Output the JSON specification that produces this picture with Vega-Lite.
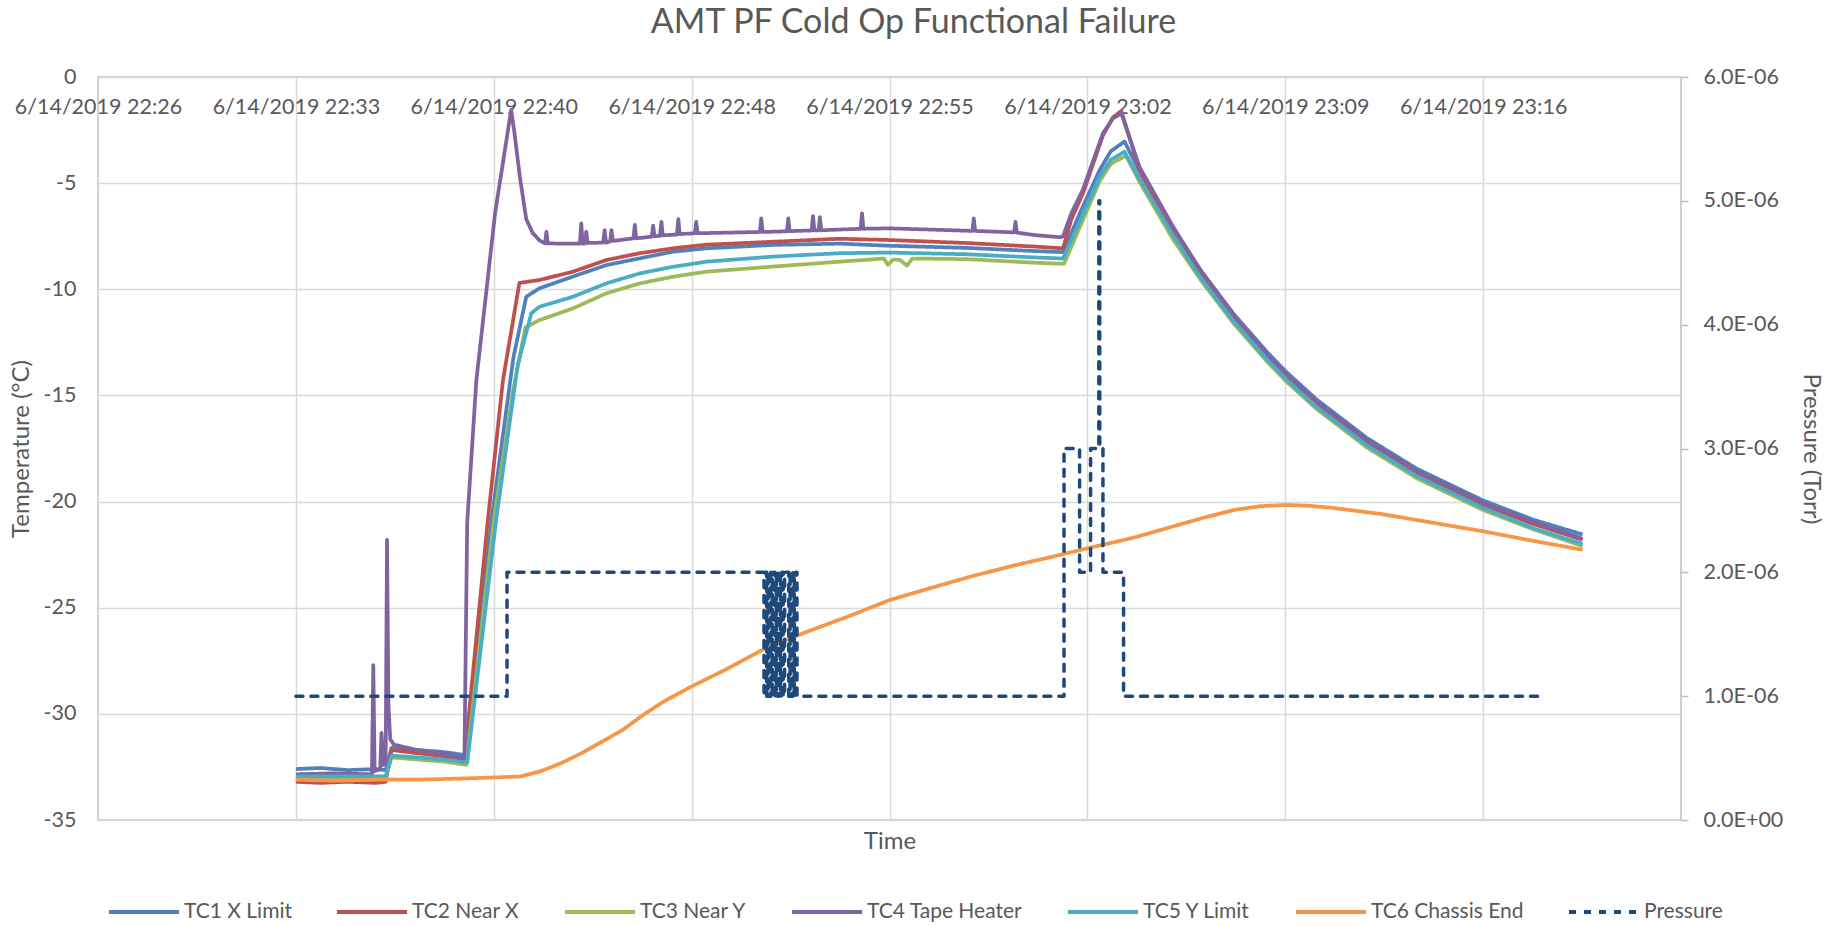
{
"$schema": "https://vega.github.io/schema/vega-lite/v6.json",
"width": 1583,
"height": 743,
"autosize": {"type": "none"},
"padding": {"left": 98, "top": 77, "right": 150, "bottom": 106},
"background": "white",
"title": {"text": "AMT PF Cold Op Functional Failure", "font": "Lato", "fontSize": 34, "fontWeight": "normal", "color": "#595959", "anchor": "middle", "frame": "group", "dx": 24, "baseline": "middle", "offset": 9},
"config": {
  "font": "Lato",
  "view": {"stroke": "#BFBFBF", "strokeWidth": 1.5},
  "axis": {"labelFont": "Lato", "labelFontSize": 21.5, "labelColor": "#595959", "titleFont": "Lato", "titleFontSize": 24, "titleColor": "#595959", "titleFontWeight": "normal", "gridColor": "#D9D9D9", "gridWidth": 1.5, "domain": false, "tickColor": "#BFBFBF", "labelFlush": false, "labelOverlap": false},
  "legend": {"labelFont": "Lato", "labelFontSize": 21, "labelColor": "#595959", "labelLimit": 400, "symbolType": "stroke", "symbolSize": 4900, "symbolStrokeWidth": 4, "labelOffset": 3, "columnPadding": 43, "clipHeight": 24}
},
"datasets": {
"temps": [
{"s":"TC1 X Limit","t":"2019-06-14T22:33:36","v":-32.6},
{"s":"TC1 X Limit","t":"2019-06-14T22:34:30","v":-32.55},
{"s":"TC1 X Limit","t":"2019-06-14T22:35:30","v":-32.65},
{"s":"TC1 X Limit","t":"2019-06-14T22:36:30","v":-32.6},
{"s":"TC1 X Limit","t":"2019-06-14T22:36:52","v":-32.65},
{"s":"TC1 X Limit","t":"2019-06-14T22:37:05","v":-31.6},
{"s":"TC1 X Limit","t":"2019-06-14T22:38:00","v":-31.7},
{"s":"TC1 X Limit","t":"2019-06-14T22:39:00","v":-31.8},
{"s":"TC1 X Limit","t":"2019-06-14T22:39:47","v":-31.95},
{"s":"TC1 X Limit","t":"2019-06-14T22:40:43","v":-20.9},
{"s":"TC1 X Limit","t":"2019-06-14T22:41:31","v":-13.2},
{"s":"TC1 X Limit","t":"2019-06-14T22:41:59","v":-10.35},
{"s":"TC1 X Limit","t":"2019-06-14T22:42:28","v":-9.95},
{"s":"TC1 X Limit","t":"2019-06-14T22:43:41","v":-9.4},
{"s":"TC1 X Limit","t":"2019-06-14T22:44:54","v":-8.86},
{"s":"TC1 X Limit","t":"2019-06-14T22:46:07","v":-8.54},
{"s":"TC1 X Limit","t":"2019-06-14T22:47:19","v":-8.23},
{"s":"TC1 X Limit","t":"2019-06-14T22:48:32","v":-8.07},
{"s":"TC1 X Limit","t":"2019-06-14T22:50:58","v":-7.91},
{"s":"TC1 X Limit","t":"2019-06-14T22:53:23","v":-7.85},
{"s":"TC1 X Limit","t":"2019-06-14T22:55:12","v":-7.95},
{"s":"TC1 X Limit","t":"2019-06-14T22:58:00","v":-8.05},
{"s":"TC1 X Limit","t":"2019-06-14T23:00:30","v":-8.2},
{"s":"TC1 X Limit","t":"2019-06-14T23:01:31","v":-8.25},
{"s":"TC1 X Limit","t":"2019-06-14T23:02:10","v":-6.3},
{"s":"TC1 X Limit","t":"2019-06-14T23:02:51","v":-4.38},
{"s":"TC1 X Limit","t":"2019-06-14T23:03:15","v":-3.5},
{"s":"TC1 X Limit","t":"2019-06-14T23:03:45","v":-3.04},
{"s":"TC1 X Limit","t":"2019-06-14T23:04:18","v":-4.45},
{"s":"TC1 X Limit","t":"2019-06-14T23:05:31","v":-7.15},
{"s":"TC1 X Limit","t":"2019-06-14T23:06:31","v":-9.1},
{"s":"TC1 X Limit","t":"2019-06-14T23:07:43","v":-11.15},
{"s":"TC1 X Limit","t":"2019-06-14T23:08:56","v":-12.95},
{"s":"TC1 X Limit","t":"2019-06-14T23:09:36","v":-13.85},
{"s":"TC1 X Limit","t":"2019-06-14T23:10:45","v":-15.2},
{"s":"TC1 X Limit","t":"2019-06-14T23:12:34","v":-17.0},
{"s":"TC1 X Limit","t":"2019-06-14T23:14:23","v":-18.45},
{"s":"TC1 X Limit","t":"2019-06-14T23:16:48","v":-19.95},
{"s":"TC1 X Limit","t":"2019-06-14T23:18:37","v":-20.85},
{"s":"TC1 X Limit","t":"2019-06-14T23:20:25","v":-21.55},
{"s":"TC2 Near X","t":"2019-06-14T22:33:36","v":-33.2},
{"s":"TC2 Near X","t":"2019-06-14T22:34:30","v":-33.25},
{"s":"TC2 Near X","t":"2019-06-14T22:35:30","v":-33.2},
{"s":"TC2 Near X","t":"2019-06-14T22:36:30","v":-33.25},
{"s":"TC2 Near X","t":"2019-06-14T22:36:52","v":-33.2},
{"s":"TC2 Near X","t":"2019-06-14T22:37:05","v":-31.7},
{"s":"TC2 Near X","t":"2019-06-14T22:38:00","v":-31.85},
{"s":"TC2 Near X","t":"2019-06-14T22:39:00","v":-32.0},
{"s":"TC2 Near X","t":"2019-06-14T22:39:44","v":-32.2},
{"s":"TC2 Near X","t":"2019-06-14T22:40:35","v":-20.9},
{"s":"TC2 Near X","t":"2019-06-14T22:41:08","v":-14.3},
{"s":"TC2 Near X","t":"2019-06-14T22:41:44","v":-9.7},
{"s":"TC2 Near X","t":"2019-06-14T22:42:28","v":-9.56},
{"s":"TC2 Near X","t":"2019-06-14T22:43:41","v":-9.17},
{"s":"TC2 Near X","t":"2019-06-14T22:44:54","v":-8.62},
{"s":"TC2 Near X","t":"2019-06-14T22:46:07","v":-8.3},
{"s":"TC2 Near X","t":"2019-06-14T22:47:19","v":-8.07},
{"s":"TC2 Near X","t":"2019-06-14T22:48:32","v":-7.9},
{"s":"TC2 Near X","t":"2019-06-14T22:50:58","v":-7.76},
{"s":"TC2 Near X","t":"2019-06-14T22:53:23","v":-7.62},
{"s":"TC2 Near X","t":"2019-06-14T22:55:12","v":-7.68},
{"s":"TC2 Near X","t":"2019-06-14T22:58:00","v":-7.82},
{"s":"TC2 Near X","t":"2019-06-14T23:00:30","v":-7.99},
{"s":"TC2 Near X","t":"2019-06-14T23:01:31","v":-8.07},
{"s":"TC2 Near X","t":"2019-06-14T23:01:49","v":-6.7},
{"s":"TC2 Near X","t":"2019-06-14T23:02:14","v":-5.5},
{"s":"TC2 Near X","t":"2019-06-14T23:02:58","v":-2.75},
{"s":"TC2 Near X","t":"2019-06-14T23:03:20","v":-1.9},
{"s":"TC2 Near X","t":"2019-06-14T23:03:38","v":-1.6},
{"s":"TC2 Near X","t":"2019-06-14T23:04:18","v":-4.4},
{"s":"TC2 Near X","t":"2019-06-14T23:05:31","v":-7.25},
{"s":"TC2 Near X","t":"2019-06-14T23:06:31","v":-9.25},
{"s":"TC2 Near X","t":"2019-06-14T23:07:43","v":-11.35},
{"s":"TC2 Near X","t":"2019-06-14T23:08:56","v":-13.15},
{"s":"TC2 Near X","t":"2019-06-14T23:09:36","v":-14.05},
{"s":"TC2 Near X","t":"2019-06-14T23:10:45","v":-15.4},
{"s":"TC2 Near X","t":"2019-06-14T23:12:34","v":-17.2},
{"s":"TC2 Near X","t":"2019-06-14T23:14:23","v":-18.65},
{"s":"TC2 Near X","t":"2019-06-14T23:16:48","v":-20.15},
{"s":"TC2 Near X","t":"2019-06-14T23:18:37","v":-21.05},
{"s":"TC2 Near X","t":"2019-06-14T23:20:25","v":-21.8},
{"s":"TC3 Near Y","t":"2019-06-14T22:33:36","v":-33.0},
{"s":"TC3 Near Y","t":"2019-06-14T22:35:00","v":-33.05},
{"s":"TC3 Near Y","t":"2019-06-14T22:36:30","v":-33.0},
{"s":"TC3 Near Y","t":"2019-06-14T22:36:52","v":-33.0},
{"s":"TC3 Near Y","t":"2019-06-14T22:37:05","v":-32.05},
{"s":"TC3 Near Y","t":"2019-06-14T22:38:00","v":-32.15},
{"s":"TC3 Near Y","t":"2019-06-14T22:39:00","v":-32.25},
{"s":"TC3 Near Y","t":"2019-06-14T22:39:48","v":-32.4},
{"s":"TC3 Near Y","t":"2019-06-14T22:40:48","v":-20.9},
{"s":"TC3 Near Y","t":"2019-06-14T22:41:30","v":-14.8},
{"s":"TC3 Near Y","t":"2019-06-14T22:41:57","v":-11.8},
{"s":"TC3 Near Y","t":"2019-06-14T22:42:28","v":-11.45},
{"s":"TC3 Near Y","t":"2019-06-14T22:43:41","v":-10.9},
{"s":"TC3 Near Y","t":"2019-06-14T22:44:54","v":-10.19},
{"s":"TC3 Near Y","t":"2019-06-14T22:46:07","v":-9.72},
{"s":"TC3 Near Y","t":"2019-06-14T22:47:19","v":-9.41},
{"s":"TC3 Near Y","t":"2019-06-14T22:48:32","v":-9.17},
{"s":"TC3 Near Y","t":"2019-06-14T22:50:58","v":-8.93},
{"s":"TC3 Near Y","t":"2019-06-14T22:53:23","v":-8.7},
{"s":"TC3 Near Y","t":"2019-06-14T22:55:00","v":-8.55},
{"s":"TC3 Near Y","t":"2019-06-14T22:55:08","v":-8.85},
{"s":"TC3 Near Y","t":"2019-06-14T22:55:20","v":-8.6},
{"s":"TC3 Near Y","t":"2019-06-14T22:55:35","v":-8.62},
{"s":"TC3 Near Y","t":"2019-06-14T22:55:50","v":-8.88},
{"s":"TC3 Near Y","t":"2019-06-14T22:56:02","v":-8.55},
{"s":"TC3 Near Y","t":"2019-06-14T22:58:00","v":-8.58},
{"s":"TC3 Near Y","t":"2019-06-14T23:00:30","v":-8.75},
{"s":"TC3 Near Y","t":"2019-06-14T23:01:33","v":-8.8},
{"s":"TC3 Near Y","t":"2019-06-14T23:02:51","v":-4.9},
{"s":"TC3 Near Y","t":"2019-06-14T23:03:15","v":-4.1},
{"s":"TC3 Near Y","t":"2019-06-14T23:03:48","v":-3.7},
{"s":"TC3 Near Y","t":"2019-06-14T23:04:18","v":-4.95},
{"s":"TC3 Near Y","t":"2019-06-14T23:05:31","v":-7.65},
{"s":"TC3 Near Y","t":"2019-06-14T23:06:31","v":-9.55},
{"s":"TC3 Near Y","t":"2019-06-14T23:07:43","v":-11.6},
{"s":"TC3 Near Y","t":"2019-06-14T23:08:56","v":-13.4},
{"s":"TC3 Near Y","t":"2019-06-14T23:09:36","v":-14.3},
{"s":"TC3 Near Y","t":"2019-06-14T23:10:45","v":-15.65},
{"s":"TC3 Near Y","t":"2019-06-14T23:12:34","v":-17.45},
{"s":"TC3 Near Y","t":"2019-06-14T23:14:23","v":-18.9},
{"s":"TC3 Near Y","t":"2019-06-14T23:16:48","v":-20.4},
{"s":"TC3 Near Y","t":"2019-06-14T23:18:37","v":-21.3},
{"s":"TC3 Near Y","t":"2019-06-14T23:20:25","v":-22.1},
{"s":"TC4 Tape Heater","t":"2019-06-14T22:33:36","v":-32.85},
{"s":"TC4 Tape Heater","t":"2019-06-14T22:35:00","v":-32.8},
{"s":"TC4 Tape Heater","t":"2019-06-14T22:36:22","v":-32.85},
{"s":"TC4 Tape Heater","t":"2019-06-14T22:36:25","v":-27.7},
{"s":"TC4 Tape Heater","t":"2019-06-14T22:36:28","v":-32.7},
{"s":"TC4 Tape Heater","t":"2019-06-14T22:36:40","v":-32.6},
{"s":"TC4 Tape Heater","t":"2019-06-14T22:36:43","v":-30.9},
{"s":"TC4 Tape Heater","t":"2019-06-14T22:36:47","v":-32.4},
{"s":"TC4 Tape Heater","t":"2019-06-14T22:36:52","v":-32.3},
{"s":"TC4 Tape Heater","t":"2019-06-14T22:36:55","v":-21.8},
{"s":"TC4 Tape Heater","t":"2019-06-14T22:36:58","v":-29.5},
{"s":"TC4 Tape Heater","t":"2019-06-14T22:37:02","v":-31.2},
{"s":"TC4 Tape Heater","t":"2019-06-14T22:37:10","v":-31.45},
{"s":"TC4 Tape Heater","t":"2019-06-14T22:38:00","v":-31.7},
{"s":"TC4 Tape Heater","t":"2019-06-14T22:39:00","v":-31.9},
{"s":"TC4 Tape Heater","t":"2019-06-14T22:39:44","v":-32.1},
{"s":"TC4 Tape Heater","t":"2019-06-14T22:39:50","v":-21.0},
{"s":"TC4 Tape Heater","t":"2019-06-14T22:40:10","v":-14.3},
{"s":"TC4 Tape Heater","t":"2019-06-14T22:40:51","v":-6.4},
{"s":"TC4 Tape Heater","t":"2019-06-14T22:41:26","v":-1.55},
{"s":"TC4 Tape Heater","t":"2019-06-14T22:41:33","v":-2.6},
{"s":"TC4 Tape Heater","t":"2019-06-14T22:41:45","v":-4.7},
{"s":"TC4 Tape Heater","t":"2019-06-14T22:41:59","v":-6.7},
{"s":"TC4 Tape Heater","t":"2019-06-14T22:42:13","v":-7.35},
{"s":"TC4 Tape Heater","t":"2019-06-14T22:42:28","v":-7.7},
{"s":"TC4 Tape Heater","t":"2019-06-14T22:42:40","v":-7.84},
{"s":"TC4 Tape Heater","t":"2019-06-14T22:42:43","v":-7.29},
{"s":"TC4 Tape Heater","t":"2019-06-14T22:42:46","v":-7.84},
{"s":"TC4 Tape Heater","t":"2019-06-14T22:43:30","v":-7.85},
{"s":"TC4 Tape Heater","t":"2019-06-14T22:43:56","v":-7.85},
{"s":"TC4 Tape Heater","t":"2019-06-14T22:43:59","v":-6.89},
{"s":"TC4 Tape Heater","t":"2019-06-14T22:44:02","v":-7.85},
{"s":"TC4 Tape Heater","t":"2019-06-14T22:44:07","v":-7.85},
{"s":"TC4 Tape Heater","t":"2019-06-14T22:44:10","v":-7.29},
{"s":"TC4 Tape Heater","t":"2019-06-14T22:44:13","v":-7.82},
{"s":"TC4 Tape Heater","t":"2019-06-14T22:44:47","v":-7.8},
{"s":"TC4 Tape Heater","t":"2019-06-14T22:44:50","v":-7.21},
{"s":"TC4 Tape Heater","t":"2019-06-14T22:44:53","v":-7.8},
{"s":"TC4 Tape Heater","t":"2019-06-14T22:45:02","v":-7.75},
{"s":"TC4 Tape Heater","t":"2019-06-14T22:45:05","v":-7.21},
{"s":"TC4 Tape Heater","t":"2019-06-14T22:45:08","v":-7.72},
{"s":"TC4 Tape Heater","t":"2019-06-14T22:45:53","v":-7.6},
{"s":"TC4 Tape Heater","t":"2019-06-14T22:45:56","v":-6.97},
{"s":"TC4 Tape Heater","t":"2019-06-14T22:45:59","v":-7.6},
{"s":"TC4 Tape Heater","t":"2019-06-14T22:46:33","v":-7.52},
{"s":"TC4 Tape Heater","t":"2019-06-14T22:46:36","v":-7.0},
{"s":"TC4 Tape Heater","t":"2019-06-14T22:46:39","v":-7.5},
{"s":"TC4 Tape Heater","t":"2019-06-14T22:46:51","v":-7.48},
{"s":"TC4 Tape Heater","t":"2019-06-14T22:46:54","v":-6.82},
{"s":"TC4 Tape Heater","t":"2019-06-14T22:46:57","v":-7.46},
{"s":"TC4 Tape Heater","t":"2019-06-14T22:47:28","v":-7.42},
{"s":"TC4 Tape Heater","t":"2019-06-14T22:47:31","v":-6.7},
{"s":"TC4 Tape Heater","t":"2019-06-14T22:47:34","v":-7.4},
{"s":"TC4 Tape Heater","t":"2019-06-14T22:48:07","v":-7.36},
{"s":"TC4 Tape Heater","t":"2019-06-14T22:48:10","v":-6.82},
{"s":"TC4 Tape Heater","t":"2019-06-14T22:48:13","v":-7.36},
{"s":"TC4 Tape Heater","t":"2019-06-14T22:50:29","v":-7.3},
{"s":"TC4 Tape Heater","t":"2019-06-14T22:50:32","v":-6.66},
{"s":"TC4 Tape Heater","t":"2019-06-14T22:50:35","v":-7.3},
{"s":"TC4 Tape Heater","t":"2019-06-14T22:51:28","v":-7.27},
{"s":"TC4 Tape Heater","t":"2019-06-14T22:51:31","v":-6.66},
{"s":"TC4 Tape Heater","t":"2019-06-14T22:51:34","v":-7.26},
{"s":"TC4 Tape Heater","t":"2019-06-14T22:52:22","v":-7.23},
{"s":"TC4 Tape Heater","t":"2019-06-14T22:52:25","v":-6.55},
{"s":"TC4 Tape Heater","t":"2019-06-14T22:52:28","v":-7.23},
{"s":"TC4 Tape Heater","t":"2019-06-14T22:52:37","v":-7.22},
{"s":"TC4 Tape Heater","t":"2019-06-14T22:52:40","v":-6.6},
{"s":"TC4 Tape Heater","t":"2019-06-14T22:52:43","v":-7.22},
{"s":"TC4 Tape Heater","t":"2019-06-14T22:54:09","v":-7.15},
{"s":"TC4 Tape Heater","t":"2019-06-14T22:54:12","v":-6.42},
{"s":"TC4 Tape Heater","t":"2019-06-14T22:54:15","v":-7.15},
{"s":"TC4 Tape Heater","t":"2019-06-14T22:55:12","v":-7.13},
{"s":"TC4 Tape Heater","t":"2019-06-14T22:57:00","v":-7.2},
{"s":"TC4 Tape Heater","t":"2019-06-14T22:58:13","v":-7.25},
{"s":"TC4 Tape Heater","t":"2019-06-14T22:58:16","v":-6.66},
{"s":"TC4 Tape Heater","t":"2019-06-14T22:58:19","v":-7.25},
{"s":"TC4 Tape Heater","t":"2019-06-14T22:59:44","v":-7.32},
{"s":"TC4 Tape Heater","t":"2019-06-14T22:59:47","v":-6.82},
{"s":"TC4 Tape Heater","t":"2019-06-14T22:59:50","v":-7.33},
{"s":"TC4 Tape Heater","t":"2019-06-14T23:00:30","v":-7.45},
{"s":"TC4 Tape Heater","t":"2019-06-14T23:01:25","v":-7.55},
{"s":"TC4 Tape Heater","t":"2019-06-14T23:01:31","v":-7.5},
{"s":"TC4 Tape Heater","t":"2019-06-14T23:01:49","v":-6.42},
{"s":"TC4 Tape Heater","t":"2019-06-14T23:02:14","v":-5.32},
{"s":"TC4 Tape Heater","t":"2019-06-14T23:02:58","v":-2.65},
{"s":"TC4 Tape Heater","t":"2019-06-14T23:03:20","v":-1.95},
{"s":"TC4 Tape Heater","t":"2019-06-14T23:03:38","v":-1.71},
{"s":"TC4 Tape Heater","t":"2019-06-14T23:04:18","v":-4.25},
{"s":"TC4 Tape Heater","t":"2019-06-14T23:05:31","v":-7.05},
{"s":"TC4 Tape Heater","t":"2019-06-14T23:06:31","v":-9.1},
{"s":"TC4 Tape Heater","t":"2019-06-14T23:07:43","v":-11.2},
{"s":"TC4 Tape Heater","t":"2019-06-14T23:08:56","v":-13.05},
{"s":"TC4 Tape Heater","t":"2019-06-14T23:09:36","v":-13.95},
{"s":"TC4 Tape Heater","t":"2019-06-14T23:10:45","v":-15.3},
{"s":"TC4 Tape Heater","t":"2019-06-14T23:12:34","v":-17.1},
{"s":"TC4 Tape Heater","t":"2019-06-14T23:14:23","v":-18.55},
{"s":"TC4 Tape Heater","t":"2019-06-14T23:16:48","v":-20.05},
{"s":"TC4 Tape Heater","t":"2019-06-14T23:18:37","v":-20.95},
{"s":"TC4 Tape Heater","t":"2019-06-14T23:20:25","v":-21.75},
{"s":"TC5 Y Limit","t":"2019-06-14T22:33:36","v":-32.95},
{"s":"TC5 Y Limit","t":"2019-06-14T22:35:00","v":-32.95},
{"s":"TC5 Y Limit","t":"2019-06-14T22:36:30","v":-32.95},
{"s":"TC5 Y Limit","t":"2019-06-14T22:36:52","v":-32.95},
{"s":"TC5 Y Limit","t":"2019-06-14T22:37:05","v":-31.97},
{"s":"TC5 Y Limit","t":"2019-06-14T22:38:00","v":-32.05},
{"s":"TC5 Y Limit","t":"2019-06-14T22:39:00","v":-32.15},
{"s":"TC5 Y Limit","t":"2019-06-14T22:39:50","v":-32.3},
{"s":"TC5 Y Limit","t":"2019-06-14T22:40:53","v":-20.9},
{"s":"TC5 Y Limit","t":"2019-06-14T22:41:40","v":-13.6},
{"s":"TC5 Y Limit","t":"2019-06-14T22:42:10","v":-11.13},
{"s":"TC5 Y Limit","t":"2019-06-14T22:42:28","v":-10.82},
{"s":"TC5 Y Limit","t":"2019-06-14T22:43:41","v":-10.35},
{"s":"TC5 Y Limit","t":"2019-06-14T22:44:54","v":-9.72},
{"s":"TC5 Y Limit","t":"2019-06-14T22:46:07","v":-9.25},
{"s":"TC5 Y Limit","t":"2019-06-14T22:47:19","v":-8.94},
{"s":"TC5 Y Limit","t":"2019-06-14T22:48:32","v":-8.7},
{"s":"TC5 Y Limit","t":"2019-06-14T22:50:58","v":-8.46},
{"s":"TC5 Y Limit","t":"2019-06-14T22:53:23","v":-8.3},
{"s":"TC5 Y Limit","t":"2019-06-14T22:55:12","v":-8.27},
{"s":"TC5 Y Limit","t":"2019-06-14T22:58:00","v":-8.35},
{"s":"TC5 Y Limit","t":"2019-06-14T23:00:30","v":-8.5},
{"s":"TC5 Y Limit","t":"2019-06-14T23:01:31","v":-8.55},
{"s":"TC5 Y Limit","t":"2019-06-14T23:02:51","v":-4.69},
{"s":"TC5 Y Limit","t":"2019-06-14T23:03:15","v":-3.9},
{"s":"TC5 Y Limit","t":"2019-06-14T23:03:45","v":-3.52},
{"s":"TC5 Y Limit","t":"2019-06-14T23:04:18","v":-4.8},
{"s":"TC5 Y Limit","t":"2019-06-14T23:05:31","v":-7.45},
{"s":"TC5 Y Limit","t":"2019-06-14T23:06:31","v":-9.45},
{"s":"TC5 Y Limit","t":"2019-06-14T23:07:43","v":-11.5},
{"s":"TC5 Y Limit","t":"2019-06-14T23:08:56","v":-13.3},
{"s":"TC5 Y Limit","t":"2019-06-14T23:09:36","v":-14.2},
{"s":"TC5 Y Limit","t":"2019-06-14T23:10:45","v":-15.55},
{"s":"TC5 Y Limit","t":"2019-06-14T23:12:34","v":-17.35},
{"s":"TC5 Y Limit","t":"2019-06-14T23:14:23","v":-18.8},
{"s":"TC5 Y Limit","t":"2019-06-14T23:16:48","v":-20.3},
{"s":"TC5 Y Limit","t":"2019-06-14T23:18:37","v":-21.25},
{"s":"TC5 Y Limit","t":"2019-06-14T23:20:25","v":-22.0},
{"s":"TC6 Chassis End","t":"2019-06-14T22:33:36","v":-33.1},
{"s":"TC6 Chassis End","t":"2019-06-14T22:35:00","v":-33.15},
{"s":"TC6 Chassis End","t":"2019-06-14T22:36:30","v":-33.1},
{"s":"TC6 Chassis End","t":"2019-06-14T22:38:00","v":-33.1},
{"s":"TC6 Chassis End","t":"2019-06-14T22:39:30","v":-33.05},
{"s":"TC6 Chassis End","t":"2019-06-14T22:40:17","v":-33.02},
{"s":"TC6 Chassis End","t":"2019-06-14T22:41:46","v":-32.95},
{"s":"TC6 Chassis End","t":"2019-06-14T22:42:31","v":-32.7},
{"s":"TC6 Chassis End","t":"2019-06-14T22:43:15","v":-32.32},
{"s":"TC6 Chassis End","t":"2019-06-14T22:44:00","v":-31.85},
{"s":"TC6 Chassis End","t":"2019-06-14T22:44:45","v":-31.3},
{"s":"TC6 Chassis End","t":"2019-06-14T22:45:30","v":-30.75},
{"s":"TC6 Chassis End","t":"2019-06-14T22:46:14","v":-30.05},
{"s":"TC6 Chassis End","t":"2019-06-14T22:46:59","v":-29.42},
{"s":"TC6 Chassis End","t":"2019-06-14T22:48:00","v":-28.71},
{"s":"TC6 Chassis End","t":"2019-06-14T22:49:13","v":-27.93},
{"s":"TC6 Chassis End","t":"2019-06-14T22:50:42","v":-26.9},
{"s":"TC6 Chassis End","t":"2019-06-14T22:52:12","v":-26.13},
{"s":"TC6 Chassis End","t":"2019-06-14T22:53:41","v":-25.42},
{"s":"TC6 Chassis End","t":"2019-06-14T22:55:12","v":-24.64},
{"s":"TC6 Chassis End","t":"2019-06-14T22:56:39","v":-24.09},
{"s":"TC6 Chassis End","t":"2019-06-14T22:58:08","v":-23.54},
{"s":"TC6 Chassis End","t":"2019-06-14T22:59:38","v":-23.04},
{"s":"TC6 Chassis End","t":"2019-06-14T23:01:07","v":-22.6},
{"s":"TC6 Chassis End","t":"2019-06-14T23:02:24","v":-22.2},
{"s":"TC6 Chassis End","t":"2019-06-14T23:03:35","v":-21.85},
{"s":"TC6 Chassis End","t":"2019-06-14T23:04:05","v":-21.7},
{"s":"TC6 Chassis End","t":"2019-06-14T23:05:18","v":-21.25},
{"s":"TC6 Chassis End","t":"2019-06-14T23:06:31","v":-20.8},
{"s":"TC6 Chassis End","t":"2019-06-14T23:07:43","v":-20.4},
{"s":"TC6 Chassis End","t":"2019-06-14T23:08:40","v":-20.22},
{"s":"TC6 Chassis End","t":"2019-06-14T23:09:36","v":-20.16},
{"s":"TC6 Chassis End","t":"2019-06-14T23:10:30","v":-20.2},
{"s":"TC6 Chassis End","t":"2019-06-14T23:11:21","v":-20.3},
{"s":"TC6 Chassis End","t":"2019-06-14T23:13:10","v":-20.6},
{"s":"TC6 Chassis End","t":"2019-06-14T23:14:59","v":-21.0},
{"s":"TC6 Chassis End","t":"2019-06-14T23:16:48","v":-21.4},
{"s":"TC6 Chassis End","t":"2019-06-14T23:18:37","v":-21.85},
{"s":"TC6 Chassis End","t":"2019-06-14T23:20:25","v":-22.27}
],
"press": [
{"s":"Pressure","t":"2019-06-14T22:33:36","p":1e-6},
{"s":"Pressure","t":"2019-06-14T22:41:17","p":2e-6},
{"s":"Pressure","t":"2019-06-14T22:50:38","p":1e-6},
{"s":"Pressure","t":"2019-06-14T22:50:41","p":2e-6},
{"s":"Pressure","t":"2019-06-14T22:50:44","p":1e-6},
{"s":"Pressure","t":"2019-06-14T22:50:47","p":2e-6},
{"s":"Pressure","t":"2019-06-14T22:50:50","p":1e-6},
{"s":"Pressure","t":"2019-06-14T22:50:53","p":2e-6},
{"s":"Pressure","t":"2019-06-14T22:50:56","p":1e-6},
{"s":"Pressure","t":"2019-06-14T22:50:59","p":2e-6},
{"s":"Pressure","t":"2019-06-14T22:51:02","p":1e-6},
{"s":"Pressure","t":"2019-06-14T22:51:05","p":2e-6},
{"s":"Pressure","t":"2019-06-14T22:51:08","p":1e-6},
{"s":"Pressure","t":"2019-06-14T22:51:11","p":2e-6},
{"s":"Pressure","t":"2019-06-14T22:51:14","p":1e-6},
{"s":"Pressure","t":"2019-06-14T22:51:17","p":2e-6},
{"s":"Pressure","t":"2019-06-14T22:51:20","p":1e-6},
{"s":"Pressure","t":"2019-06-14T22:51:23","p":2e-6},
{"s":"Pressure","t":"2019-06-14T22:51:32","p":1e-6},
{"s":"Pressure","t":"2019-06-14T22:51:35","p":2e-6},
{"s":"Pressure","t":"2019-06-14T22:51:38","p":1e-6},
{"s":"Pressure","t":"2019-06-14T22:51:41","p":2e-6},
{"s":"Pressure","t":"2019-06-14T22:51:44","p":1e-6},
{"s":"Pressure","t":"2019-06-14T22:51:47","p":2e-6},
{"s":"Pressure","t":"2019-06-14T22:51:50","p":1e-6},
{"s":"Pressure","t":"2019-06-14T23:01:33","p":3e-6},
{"s":"Pressure","t":"2019-06-14T23:02:07","p":2e-6},
{"s":"Pressure","t":"2019-06-14T23:02:31","p":3e-6},
{"s":"Pressure","t":"2019-06-14T23:02:49","p":5e-6},
{"s":"Pressure","t":"2019-06-14T23:02:51","p":3e-6},
{"s":"Pressure","t":"2019-06-14T23:02:58","p":2e-6},
{"s":"Pressure","t":"2019-06-14T23:03:43","p":1e-6},
{"s":"Pressure","t":"2019-06-14T23:18:54","p":1e-6}
]
},
"encoding": {
  "x": {"field": "t", "type": "temporal",
    "scale": {"domain": [{"year": 2019, "month": 6, "date": 14, "hours": 22, "minutes": 26, "seconds": 24}, {"year": 2019, "month": 6, "date": 14, "hours": 23, "minutes": 24, "seconds": 0}], "nice": false},
    "axis": {"orient": "top", "format": "%-m/%-d/%Y %H:%M", "ticks": false, "tickSize": 0, "labelPadding": -30, "labelBaseline": "middle", "grid": true,
      "values": [
        {"year": 2019, "month": 6, "date": 14, "hours": 22, "minutes": 26, "seconds": 24},
        {"year": 2019, "month": 6, "date": 14, "hours": 22, "minutes": 33, "seconds": 36},
        {"year": 2019, "month": 6, "date": 14, "hours": 22, "minutes": 40, "seconds": 48},
        {"year": 2019, "month": 6, "date": 14, "hours": 22, "minutes": 48, "seconds": 0},
        {"year": 2019, "month": 6, "date": 14, "hours": 22, "minutes": 55, "seconds": 12},
        {"year": 2019, "month": 6, "date": 14, "hours": 23, "minutes": 2, "seconds": 24},
        {"year": 2019, "month": 6, "date": 14, "hours": 23, "minutes": 9, "seconds": 36},
        {"year": 2019, "month": 6, "date": 14, "hours": 23, "minutes": 16, "seconds": 48}
      ],
      "title": "Time", "titleX": 791.5, "titleY": 764, "titleBaseline": "middle", "titleAlign": "center", "titleAnchor": null}
  },
  "color": {"field": "s", "type": "nominal",
    "scale": {"domain": ["TC1 X Limit", "TC2 Near X", "TC3 Near Y", "TC4 Tape Heater", "TC5 Y Limit", "TC6 Chassis End", "Pressure"],
      "range": ["#4F81BD", "#C0504D", "#9BBB59", "#8064A2", "#4BACC6", "#F79646", "#1F497D"]},
    "legend": {"title": null, "orient": "none", "direction": "horizontal", "legendX": 9, "legendY": 823}
  },
  "strokeDash": {"field": "s", "type": "nominal",
    "scale": {"domain": ["TC1 X Limit", "TC2 Near X", "TC3 Near Y", "TC4 Tape Heater", "TC5 Y Limit", "TC6 Chassis End", "Pressure"],
      "range": [[1, 0], [1, 0], [1, 0], [1, 0], [1, 0], [1, 0], [7, 8]]},
    "legend": {"title": null, "orient": "none", "direction": "horizontal", "legendX": 9, "legendY": 823}
  }
},
"layer": [
  {"data": {"name": "temps"},
   "mark": {"type": "line", "strokeWidth": 3.75, "strokeJoin": "round"},
   "encoding": {"y": {"field": "v", "type": "quantitative", "scale": {"domain": [-35, 0], "nice": false},
     "axis": {"orient": "left", "values": [0, -5, -10, -15, -20, -25, -30, -35], "labelExpr": "'' + datum.value", "ticks": false, "tickSize": 0, "labelPadding": 22, "grid": true,
       "title": "Temperature (°C)", "titleX": -77, "titleY": 371.5, "titleAngle": 270, "titleBaseline": "middle", "titleAlign": "center"}}}},
  {"data": {"name": "press"},
   "mark": {"type": "line", "interpolate": "step-after", "strokeWidth": 3.5, "strokeCap": "round", "strokeJoin": "round"},
   "encoding": {"y": {"field": "p", "type": "quantitative", "scale": {"domain": [0, 0.000006], "nice": false},
     "axis": {"orient": "right", "values": [0, 0.000001, 0.000002, 0.000003, 0.000004, 0.000005, 0.000006], "labelExpr": "datum.value == 0 ? '0.0E+00' : format(datum.value * 1000000, '.1f') + 'E-06'", "tickSize": 7, "tickWidth": 1.5, "labelPadding": 15, "grid": false,
       "title": "Pressure (Torr)", "titleX": 129, "titleY": 371.5, "titleAngle": 90, "titleBaseline": "middle", "titleAlign": "center"}}}}
],
"resolve": {"scale": {"y": "independent"}}
}
